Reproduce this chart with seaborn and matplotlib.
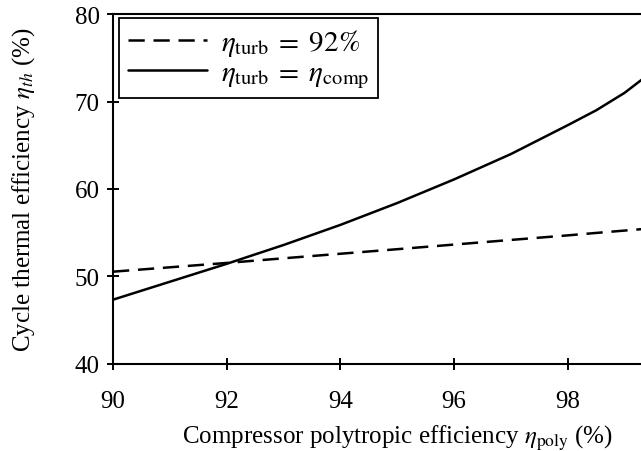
import numpy as np
import pandas as pd
import matplotlib
matplotlib.use("Agg")
import matplotlib.pyplot as plt
import seaborn as sns

# values
eta_poly = [90, 91, 92, 93, 94, 95, 96, 97, 98, 98.5, 99, 99.5, 100]
eff_fixed_turb = [50.55, 51.05, 51.55, 52.08, 52.6, 53.12, 53.65, 54.18, 54.7, 54.98, 55.25, 55.52, 55.8]
eff_equal_turb = [47.35, 49.4, 51.45, 53.6, 55.9, 58.4, 61.1, 64.0, 67.3, 69.0, 71.0, 73.5, 76.5]

labels = [r"$\eta_{\rm turb}\;=\;92\%$", r"$\eta_{\rm turb}\;=\;\eta_{\rm comp}$"]
x_ticks = [90, 92, 94, 96, 98]
y_ticks = [40, 50, 60, 70, 80]

df = pd.concat([
    pd.DataFrame({"eta_poly": eta_poly, "eff": eff_fixed_turb, "case": labels[0]}),
    pd.DataFrame({"eta_poly": eta_poly, "eff": eff_equal_turb, "case": labels[1]}),
])

sns.set_style("ticks")
plt.rcParams["font.family"] = ["Liberation Serif", "DejaVu Serif"]
plt.rcParams["mathtext.fontset"] = "stix"
plt.rcParams["text.color"] = "black"
plt.rcParams["axes.labelcolor"] = "black"
plt.rcParams["xtick.color"] = "black"
plt.rcParams["ytick.color"] = "black"
fs = 18

fig = plt.figure(figsize=(6.41, 4.52), dpi=100)
ax = fig.add_axes([0.1763, 0.1925, 0.887, 0.7743])

sns.lineplot(data=df, x="eta_poly", y="eff", style="case", color="black",
             dashes={labels[0]: (6.5, 3.5), labels[1]: ""}, linewidth=1.8,
             ax=ax, sort=False)

ax.set_xlim(90, 100)
ax.set_ylim(40, 80)
ax.set_xticks(x_ticks)
ax.set_yticks(y_ticks)
ax.tick_params(direction="inout", length=9, width=1.4, labelsize=fs)
ax.tick_params(axis="x", pad=14)
ax.tick_params(axis="y", pad=5)
for s in ax.spines.values():
    s.set_linewidth(1.5)
    s.set_color("black")

ax.set_xlabel(r"Compressor polytropic efficiency $\eta_{\rm poly}$ (%)", fontsize=fs, labelpad=8)
ax.set_ylabel(r"Cycle thermal efficiency $\eta_{th}$ (%)", fontsize=fs, labelpad=27)

leg = ax.legend(handles=ax.get_lines()[:2], labels=labels, loc="upper left",
                bbox_to_anchor=(0.0106, 0.988), borderaxespad=0, fancybox=False,
                edgecolor="black", framealpha=1, fontsize=21, handlelength=2.7,
                borderpad=0.3, labelspacing=0.05, handletextpad=0.5)
leg.get_frame().set_linewidth(1.3)

fig.savefig("out.png", dpi=100)
